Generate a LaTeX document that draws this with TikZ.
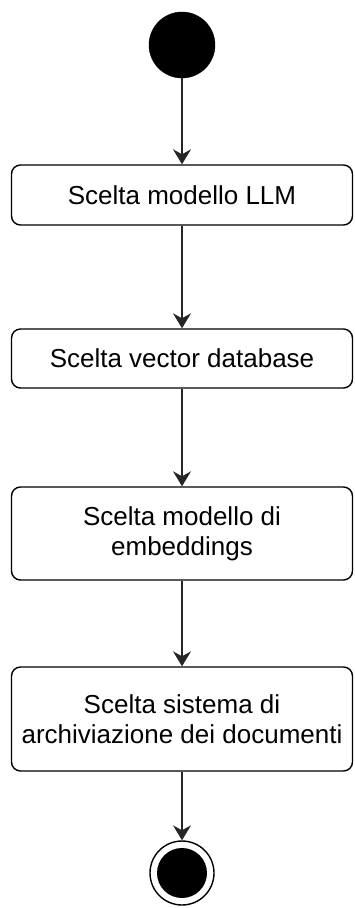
\documentclass[tikz,border=0pt]{standalone}
\usepackage{fontspec}
\setmainfont{Liberation Sans}
\usetikzlibrary{arrows.meta}
\tikzset{
  actbox/.style={draw=black, line width=1.4pt, rounded corners=9pt, fill=white,
    minimum width=341pt, inner sep=0pt, align=center,
    font=\fontsize{26}{30}\selectfont},
  flow/.style={draw=black!85, line width=1.4pt,
    -{Stealth[length=15pt, width=18pt, inset=5pt]}},
  startdot/.style={circle, fill=black, draw=black, minimum size=66pt, inner sep=0pt},
  endring/.style={circle, draw=black, line width=1.4pt, fill=white, minimum size=64pt, inner sep=0pt},
  enddot/.style={circle, fill=black, minimum size=50pt, inner sep=0pt}
}
\begin{document}
\begin{tikzpicture}[x=1pt,y=-1pt]
\useasboundingbox (0,0) rectangle (355,908);
\node[startdot] (start) at (182,45) {};
\node[actbox, minimum height=60pt] (b1) at (182,195) {Scelta modello LLM};
\node[actbox, minimum height=59pt] (b2) at (182,358.5) {Scelta vector database};
\node[actbox, minimum height=93pt] (b3) at (182,533.5) {Scelta modello di\\embeddings};
\node[actbox, minimum height=104pt] (b4) at (182,719) {Scelta sistema di\\archiviazione dei documenti};
\node[endring] (end) at (182,873) {};
\node[enddot] (endin) at (182,873) {};
\draw[flow] (start) -- (b1);
\draw[flow] (b1) -- (b2);
\draw[flow] (b2) -- (b3);
\draw[flow] (b3) -- (b4);
\draw[flow] (b4) -- (end);
\end{tikzpicture}
\end{document}
